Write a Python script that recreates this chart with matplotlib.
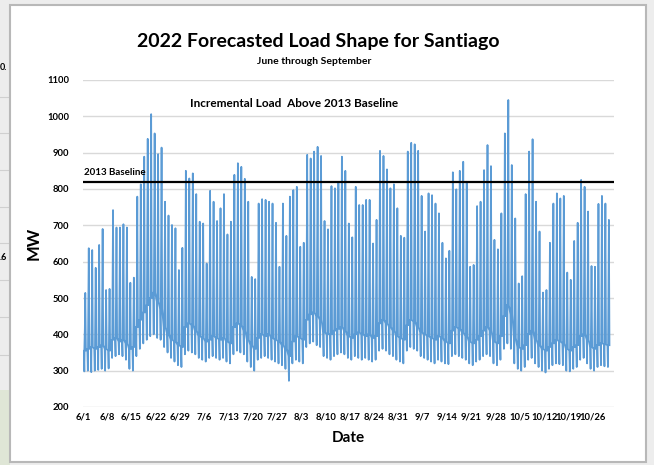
import numpy as np
import matplotlib.pyplot as plt
from matplotlib.patches import Rectangle

# daily peak load (MW), 6/1 .. 10/31
day_peak = [505, 514, 637, 632, 583, 646, 690, 522, 525, 742,
            694, 694, 703, 694, 542, 556, 779, 813, 889, 938,
            1006, 953, 896, 914, 765, 727, 701, 692, 577, 638,
            850, 829, 843, 786, 710, 705, 595, 795, 765, 712,
            747, 786, 675, 710, 839, 871, 861, 828, 765, 558,
            552, 760, 772, 770, 765, 760, 707, 586, 760, 671,
            779, 797, 806, 641, 652, 894, 884, 903, 916, 891,
            712, 689, 808, 802, 817, 889, 850, 705, 667, 806,
            756, 756, 770, 770, 650, 715, 905, 891, 854, 802,
            813, 747, 671, 666, 903, 927, 923, 905, 781, 683,
            788, 783, 760, 733, 652, 609, 630, 846, 799, 850,
            875, 820, 586, 591, 753, 765, 852, 921, 863, 660,
            634, 733, 953, 1045, 866, 719, 540, 560, 786, 903,
            937, 765, 683, 515, 522, 652, 760, 788, 774, 781,
            570, 550, 657, 707, 825, 806, 738, 588, 586, 759,
            781, 760, 715]

# early-morning minimum (MW)
day_min = [295, 298, 300, 296, 300, 302, 305, 300, 306, 335,
           340, 345, 340, 330, 305, 300, 340, 360, 375, 385,
           395, 400, 390, 385, 365, 350, 335, 325, 315, 310,
           345, 355, 350, 345, 335, 330, 325, 335, 340, 335,
           330, 335, 325, 320, 345, 355, 350, 345, 325, 310,
           300, 330, 335, 340, 335, 330, 325, 320, 315, 305,
           272, 320, 330, 325, 320, 365, 375, 380, 370, 365,
           340, 335, 330, 340, 345, 350, 345, 335, 330, 340,
           335, 330, 335, 330, 325, 330, 355, 360, 355, 345,
           340, 330, 325, 320, 355, 365, 360, 355, 340, 335,
           330, 325, 320, 330, 325, 320, 318, 340, 345, 340,
           335, 330, 320, 315, 325, 330, 340, 345, 340, 320,
           315, 330, 360, 375, 360, 320, 305, 300, 310, 330,
           335, 320, 310, 300, 295, 305, 315, 320, 318, 315,
           300, 298, 305, 310, 330, 335, 320, 305, 300, 310,
           315, 312, 310]

# overnight load level (MW)
day_night = [350, 355, 360, 365, 360, 365, 370, 360, 355, 385,
             390, 380, 385, 375, 360, 365, 420, 440, 460, 480,
             500, 515, 490, 470, 420, 400, 385, 380, 370, 365,
             420, 430, 425, 410, 395, 390, 380, 385, 395, 390,
             385, 390, 380, 375, 420, 430, 425, 410, 385, 370,
             360, 390, 400, 395, 400, 390, 385, 380, 370, 360,
             340, 380, 395, 390, 385, 440, 455, 460, 450, 440,
             405, 400, 400, 410, 415, 420, 410, 395, 390, 400,
             405, 400, 395, 400, 390, 395, 430, 440, 430, 420,
             410, 395, 390, 385, 425, 440, 435, 420, 405, 400,
             395, 390, 385, 395, 390, 380, 375, 410, 420, 415,
             405, 395, 380, 375, 385, 395, 410, 420, 410, 380,
             375, 395, 450, 480, 455, 390, 365, 360, 370, 400,
             410, 385, 370, 360, 355, 365, 375, 385, 380, 375,
             360, 355, 365, 370, 395, 400, 385, 365, 360, 370,
             375, 372, 370]

baseline_2013 = 820
tick_labels = ['6/1', '6/8', '6/15', '6/22', '6/29', '7/6', '7/13', '7/20',
               '7/27', '8/3', '8/10', '8/17', '8/24', '8/31', '9/7', '9/14',
               '9/21', '9/28', '10/5', '10/12', '10/19', '10/26']

plt.rcParams['font.family'] = ['Lato', 'DejaVu Sans']
plt.rcParams['font.weight'] = 'bold'

# each day: overnight level -> morning min -> afternoon peak -> overnight level
days = np.arange(len(day_peak))
x = np.column_stack([days, days + 0.15, days + 0.42, days + 0.6]).ravel()
y = np.column_stack([day_night, day_min, day_peak, day_night]).ravel()

fig = plt.figure(figsize=(6.54, 4.65), dpi=100, facecolor='#ededed')

# screenshot frame: spreadsheet strip on the left and the white chart panel
for gy in [97, 133, 170, 207, 243, 280, 317, 355]:
    fig.add_artist(plt.Line2D([0, 10 / 654], [1 - gy / 465] * 2, color='#d0d0d0',
                              lw=0.8, zorder=-5))
fig.add_artist(Rectangle((0, 0), 10 / 654, 1 - 390 / 465, transform=fig.transFigure,
                         facecolor='#dfe6d6', edgecolor='none', zorder=-5))
fig.text(0.0, 1 - 68 / 465, '0.', fontsize=6.5, va='center', ha='left')
fig.text(0.0, 1 - 258 / 465, '.6', fontsize=6.5, va='center', ha='left')
fig.add_artist(Rectangle((10 / 654, 3 / 465), 636 / 654, 457 / 465, transform=fig.transFigure,
                         facecolor='white', edgecolor='#b8b8b8', lw=1.5, zorder=-4))

ax = fig.add_axes([83 / 654, 1 - 407 / 465, 531 / 654, 327 / 465])
ax.patch.set_alpha(0)
ax.plot(x, y, color='#5b9bd5', lw=1.25, zorder=3)
ax.axhline(baseline_2013, color='black', lw=1.6, zorder=4)

ax.set_xlim(0.9, 153.9)
ax.set_ylim(200, 1100)
ax.set_yticks(range(200, 1101, 100))
ax.set_xticks(np.arange(len(tick_labels)) * 7 + 0.76)
ax.set_xticklabels(tick_labels)
ax.tick_params(length=0, labelsize=6.8, pad=4)
ax.tick_params(axis='y', pad=10)
ax.grid(axis='y', color='#d9d9d9', lw=1)
ax.set_axisbelow(True)
for s in ax.spines.values():
    s.set_visible(False)

ax.set_ylabel('MW', fontsize=12, fontweight='bold', labelpad=4)
ax.set_xlabel('Date', fontsize=11, fontweight='bold', labelpad=7)

ax.text(1.0, 832, '2013 Baseline', fontsize=7, va='bottom', ha='left')
ax.text(61.5, 1035, 'Incremental Load  Above 2013 Baseline', fontsize=8.5,
        ha='center', va='center')

fig.text(0.487, 1 - 41 / 465, '2022 Forecasted Load Shape for Santiago',
         fontsize=14, fontweight='bold', ha='center', va='center')
fig.text(0.48, 1 - 61 / 465, 'June through September', fontsize=7.5,
         fontweight='bold', ha='center', va='center')

fig.savefig('out.png', dpi=100, facecolor=fig.get_facecolor())
